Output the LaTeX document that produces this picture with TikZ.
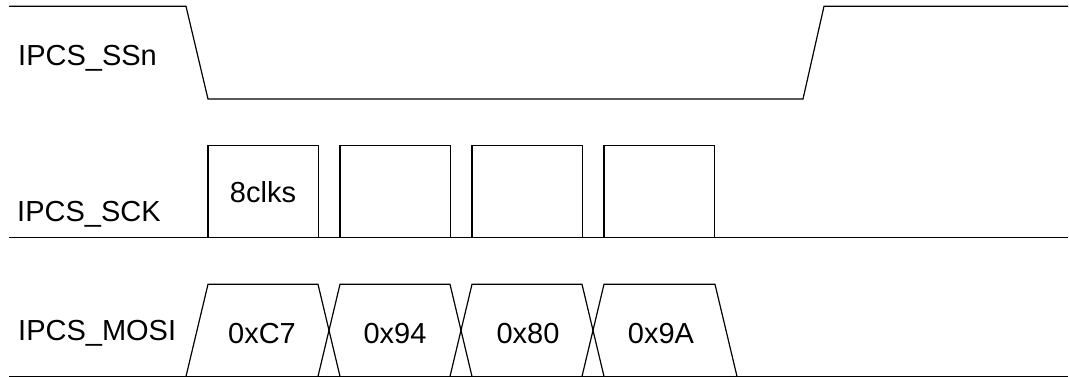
\documentclass[tikz,border=0pt]{standalone}
\usepackage{fontspec}
\setmainfont{Liberation Sans}
\begin{document}
\begin{tikzpicture}[x=1pt,y=-1pt,
  wave/.style={draw=black,line width=1.2pt,line join=miter},
  sig/.style={anchor=base west,inner sep=0pt,font=\fontsize{29}{34}\selectfont},
  val/.style={anchor=base,inner sep=0pt,font=\fontsize{29}{34}\selectfont}]
\useasboundingbox (0,0) rectangle (1069,377);

% signal names
\node[sig] (ssn)  at (18,66)  {IPCS\_SSn};
\node[sig] (sck)  at (17,221.7) {IPCS\_SCK};
\node[sig] (mosi) at (18,340) {IPCS\_MOSI};

% chip select: high, falls, low, rises
\draw[wave] (9,6.3) -- (186,6.3) -- (208,99) -- (803,99) -- (824,6.3) -- (1068,6.3);

% clock bursts on a common baseline
\draw[wave] (9,237.7) -- (1068,237.7);
\foreach \x in {208,340,472,604}{
  \draw[wave] (\x,237.7) -- (\x,145.7) -- (\x+110.5,145.7) -- (\x+110.5,237.7);
}
\node[val] (clk) at (263,203) {8clks};

% data bytes on MOSI
\draw[wave] (9,376.4) -- (1068,376.4);
\draw[wave] (186,376.4) -- (208,284.3) -- (318,284.3) -- (340,376.4);
\draw[wave] (318,376.4) -- (340,284.3) -- (450,284.3) -- (472,376.4);
\draw[wave] (450,376.4) -- (472,284.3) -- (582,284.3) -- (604,376.4);
\draw[wave] (582,376.4) -- (604,284.3) -- (715,284.3) -- (737,376.4);
\node[val] (b1) at (262,343) {0xC7};
\node[val] (b2) at (395,343) {0x94};
\node[val] (b3) at (528,343) {0x80};
\node[val] (b4) at (661,343) {0x9A};
\end{tikzpicture}
\end{document}
